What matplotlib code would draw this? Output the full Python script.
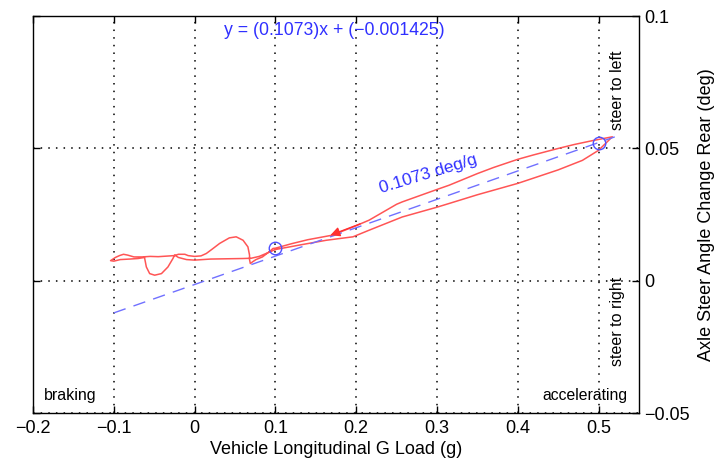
import matplotlib
matplotlib.use("Agg")
import matplotlib.pyplot as plt
import numpy as np

plt.rcParams['font.family'] = ['Liberation Sans', 'DejaVu Sans']

# measured trace: G load (g) vs rear axle steer change (deg), in time order
g_load = [
    # accelerating (lower strand of the loop)
    0.100, 0.130, 0.163, 0.196, 0.216, 0.257, 0.300, 0.315, 0.350, 0.400, 0.450, 0.480,
    0.500, 0.517,
    # returning (upper strand)
    0.505, 0.490, 0.470, 0.450, 0.420, 0.400, 0.370, 0.350, 0.315, 0.300, 0.257, 0.250,
    0.216, 0.196, 0.170, 0.140, 0.120, 0.100,
    # braking side, going left
    0.097, 0.093, 0.084, 0.076, 0.072, 0.069, 0.068, 0.068, 0.066, 0.060, 0.0515, 0.043,
    0.031, 0.022, 0.0145, 0.008, 0.000, -0.008, -0.012, -0.020, -0.025, -0.035, -0.045,
    -0.055, -0.065, -0.075, -0.083, -0.088, -0.093, -0.098, -0.104,
    # coming back right
    -0.100, -0.092, -0.080, -0.070, -0.062, -0.0597, -0.0556, -0.0494, -0.041, -0.033,
    -0.0268, -0.0247, -0.020, -0.010, 0.000, 0.020, 0.040, 0.060, 0.070, 0.080, 0.090,
    0.100,
]
steer = [
    0.0118, 0.0135, 0.0153, 0.0166, 0.0191, 0.0241, 0.0278, 0.0292, 0.0325, 0.0368, 0.0419, 0.0455,
    0.0493, 0.0544,
    0.0537, 0.0528, 0.0515, 0.0500, 0.0476, 0.0459, 0.0428, 0.0405, 0.0361, 0.0345, 0.0298, 0.0289,
    0.0229, 0.0203, 0.0172, 0.0155, 0.0140, 0.0123,
    0.0122, 0.0111, 0.0090, 0.0080, 0.0072, 0.0065, 0.0080, 0.0097, 0.0128, 0.0153, 0.0166, 0.0162,
    0.0141, 0.0120, 0.0103, 0.0094, 0.0092, 0.0095, 0.0100, 0.0100, 0.0095, 0.0093, 0.0091,
    0.0092, 0.0090, 0.0090, 0.0097, 0.0100, 0.0095, 0.0088, 0.0076,
    0.0074, 0.0080, 0.0082, 0.0084, 0.0088, 0.0052, 0.0027, 0.0021, 0.0027, 0.0052,
    0.0084, 0.0097, 0.0088, 0.0080, 0.0078, 0.0082, 0.0083, 0.0084, 0.0085, 0.0092, 0.0105,
    0.0118,
]

# fitted line
fit_slope = 0.1073
fit_intercept = -0.001425
fit_x = [-0.1, 0.52]

# marked points
mark_x = [0.1, 0.5]
mark_y = [0.0123, 0.0522]

# arrow on the returning strand
arrow_from = (0.205, 0.0215)
arrow_to = (0.168, 0.0172)

fig = plt.figure(figsize=(7.22, 4.62), dpi=100)
ax = fig.add_axes([0.0457, 0.106, 0.8393, 0.859])

ax.plot(g_load, steer, color='#FF5555', lw=1.1, zorder=3)
fx = np.array(fit_x)
ax.plot(fx, fit_slope * fx + fit_intercept, color='#7070FF', lw=1.0,
        dashes=(9, 6), zorder=4)
ax.plot(mark_x, mark_y, 'o', mfc='none', mec='#5050FF', ms=9, mew=1.0, zorder=5)
ax.annotate('', xy=arrow_to, xytext=arrow_from,
            arrowprops=dict(arrowstyle='-|>', color='#FF3030', lw=1.0,
                            mutation_scale=14, shrinkA=0, shrinkB=0), zorder=6)

ax.set_xlim(-0.2, 0.55)
ax.set_ylim(-0.05, 0.1)
ax.set_xticks([-0.2, -0.1, 0, 0.1, 0.2, 0.3, 0.4, 0.5])
ax.set_xticklabels(['\u22120.2', '\u22120.1', '0', '0.1', '0.2', '0.3', '0.4', '0.5'])
ax.set_yticks([-0.05, 0, 0.05, 0.1])
ax.set_yticklabels(['\u22120.05', '0', '0.05', '0.1'])
ax.yaxis.tick_right()
ax.yaxis.set_label_position('right')
ax.tick_params(direction='in', top=True, bottom=True, left=True, right=True,
               labelsize=13, length=5, width=1, pad=4, colors='black')
ax.tick_params(axis='x', pad=5)
ax.tick_params(axis='y', labelleft=False, labelright=True)
ax.grid(True, color='black', linestyle=(0, (1, 4)), lw=1.1)
for s in ax.spines.values():
    s.set_linewidth(1.0)
    s.set_color('black')

ax.set_xlabel('Vehicle Longitudinal G Load (g)', fontsize=13, labelpad=3)
ax.set_ylabel('Axle Steer Angle Change Rear (deg)', fontsize=13, labelpad=6)

blue = '#3030FF'
ax.text(0.173, 0.0945, 'y = (0.1073)x + (\u22120.001425)', color=blue,
        fontsize=12.7, ha='center', va='center')
ax.text(0.289, 0.0403, '0.1073 deg/g', color=blue, fontsize=12.5,
        rotation=17, ha='center', va='center', rotation_mode='anchor')
ax.text(-0.1545, -0.0433, 'braking', fontsize=11.5, ha='center', va='center')
ax.text(0.483, -0.0433, 'accelerating', fontsize=11.3, ha='center', va='center')
ax.text(0.523, 0.0720, 'steer to left', fontsize=11.5, rotation=90,
        ha='center', va='center')
ax.text(0.523, -0.0153, 'steer to right', fontsize=11.5, rotation=90,
        ha='center', va='center')

fig.savefig('out.png', dpi=100)
